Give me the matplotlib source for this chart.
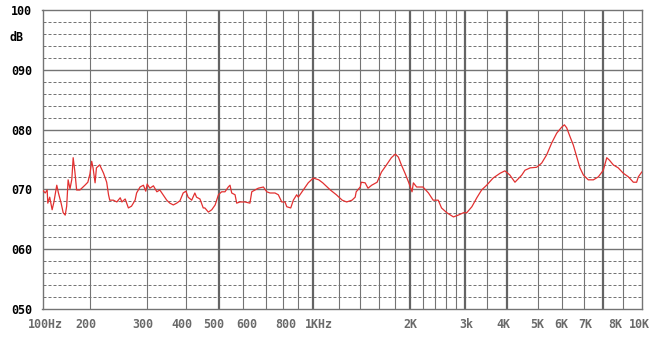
import numpy as np
import matplotlib
matplotlib.use('Agg')
import matplotlib.pyplot as plt

# frequency response, Hz / dB
freq = [100, 104, 107, 108, 111, 115, 118, 123, 126, 131,
        135, 139, 142, 145, 149, 153, 156, 160, 164, 172,
        185, 193, 199, 202, 204, 207, 209, 214, 220, 225,
        228, 230, 236, 242, 248, 251, 257, 263, 269, 276,
        279, 286, 293, 298, 301, 307, 315, 323, 330, 338,
        347, 355, 364, 373, 382, 391, 399, 405, 415, 424,
        429, 439, 449, 454, 465, 476, 487, 498, 510, 523,
        536, 543, 550, 564, 571, 585, 607, 628, 636, 650,
        665, 689, 706, 724, 753, 773, 794, 814, 825, 850,
        867, 889, 900, 932, 965, 1000, 1040, 1070, 1130, 1180,
        1230, 1270, 1320, 1350, 1360, 1400, 1410, 1450, 1480, 1520,
        1580, 1630, 1690, 1750, 1800, 1840, 1880, 1930, 1980, 2030,
        2050, 2100, 2200, 2290, 2370, 2460, 2520, 2620, 2750, 2850,
        2960, 3030, 3140, 3250, 3360, 3480, 3640, 3820, 3950, 4090,
        4240, 4450, 4550, 4720, 4940, 5130, 5330, 5540, 5750, 5970,
        6090, 6190, 6340, 6490, 6650, 6800, 6970, 7210, 7470, 7730,
        8000, 8170, 8300, 8500, 8760, 9030, 9280, 9530, 9700, 9790,
        9970]
db = [69.9, 69.4, 69.9, 67.7, 68.7, 66.6, 67.9, 70.7, 69.4, 67.7,
      66.1, 65.7, 67.2, 71.6, 70.1, 71.7, 75.3, 72.9, 69.9, 69.9,
      70.7, 71.2, 72.6, 74.7, 73.6, 71.1, 73.6, 74.1, 72.7, 71.2,
      69.1, 68.2, 68.2, 67.9, 68.6, 67.9, 68.4, 66.9, 67.2, 68.2,
      69.4, 70.4, 70.7, 69.7, 70.9, 70.2, 70.6, 69.6, 69.9, 69.1,
      68.2, 67.7, 67.4, 67.7, 68.1, 69.4, 69.7, 68.7, 68.2, 69.4,
      68.7, 68.4, 66.9, 66.9, 66.2, 66.6, 67.4, 69.1, 69.6, 69.6,
      70.4, 70.7, 69.4, 69.1, 67.7, 67.9, 67.9, 67.7, 69.6, 69.9,
      70.2, 70.4, 69.6, 69.4, 69.4, 69.1, 67.9, 67.9, 67.1, 66.9,
      68.2, 69.1, 68.7, 69.9, 71.1, 71.9, 71.6, 71.1, 69.9, 69.1,
      68.2, 67.9, 68.2, 68.7, 69.6, 70.4, 71.2, 71.1, 70.2, 70.7,
      71.2, 72.9, 74.1, 75.3, 75.9, 75.4, 74.1, 72.7, 71.2, 69.6,
      71.1, 70.4, 70.4, 69.4, 68.2, 68.2, 66.9, 66.1, 65.4, 65.7,
      66.1, 66.1, 67.1, 68.6, 69.9, 70.7, 71.9, 72.7, 73.1, 72.4,
      71.2, 72.4, 73.2, 73.6, 73.7, 74.4, 75.8, 77.8, 79.4, 80.4,
      80.8, 80.3, 78.8, 77.4, 75.4, 73.6, 72.4, 71.6, 71.6, 72.1,
      73.2, 75.3, 74.9, 74.1, 73.6, 72.7, 72.1, 71.2, 71.2, 72.1,
      72.9]

# x tick labels
x_ticks = [100, 200, 300, 400, 500, 600, 800, 1000, 2000, 3000, 4000, 5000, 6000, 7000, 8000, 10000]
x_labels = ['100Hz', '200', '300', '400', '500', '600', '800', '1KHz',
            '2K', '3k', '4K', '5K', '6K', '7K', '8K', '10K']
x_label_shift = [3, -4, -4, -4, -5, 3, 3, 6, 0, 1, -3, -1, -1, 1, 12, -3]   # px

y_ticks = [50, 60, 70, 80, 90, 100]
y_labels = ['050', '060', '070', '080', '090', '100']

# vertical grid, thick ones separate
v_thin = [200, 300, 400, 600, 700, 800, 900, 1200, 1400, 1600, 1800,
          2200, 2400, 2600, 2800, 3500, 5000, 6000, 7000, 9000]
v_thick = [500, 1000, 2000, 3000, 4000, 8000]

# the analyser's frequency axis is not a clean log axis: anchor pixels
anchor_f = np.log10([100, 200, 300, 400, 500, 600, 700, 800, 900, 1000,
                     2000, 3000, 4000, 5000, 6000, 7000, 8000, 9000, 10000])
anchor_px = np.array([42.5, 90.3, 146.7, 186.3, 219, 243.3, 265.7, 282.7, 298.3, 313.3,
                      410, 465.3, 506.7, 538.3, 562.3, 584, 603.3, 622.7, 642.3])


def fwd(x):
    x = np.clip(np.asarray(x, dtype=float), 1e-6, None)
    return np.interp(np.log10(x), anchor_f, anchor_px)


def inv(p):
    return 10 ** np.interp(p, anchor_px, anchor_f)


grid_col = '#747474'
fig = plt.figure(figsize=(6.58, 3.38), dpi=100)
ax = fig.add_axes([42.5 / 658, 29 / 338, 599.8 / 658, 299 / 338])
ax.set_xscale('function', functions=(fwd, inv))
ax.set_xlim(100, 10000)
ax.set_ylim(50, 100)

# horizontal grid
for y in range(52, 100, 2):
    if y % 10 == 0:
        ax.axhline(y, color=grid_col, lw=1.0, zorder=1)
    else:
        ax.axhline(y, color=grid_col, lw=0.72, ls=(0, (3, 2)), zorder=1)
for f in v_thin:
    ax.axvline(f, color=grid_col, lw=0.8, zorder=1)
for f in v_thick:
    ax.axvline(f, color='#646464', lw=1.6, zorder=1)

ax.plot(freq, db, color='#e23030', lw=0.9, zorder=3)

for s in ax.spines.values():
    s.set_color(grid_col)
    s.set_linewidth(1.0)

ax.set_xticks([])
ax.set_yticks(y_ticks)
ax.set_yticklabels(y_labels, family='DejaVu Sans Mono', weight='bold', fontsize=8.4, color='black')
ax.tick_params(axis='y', length=0, pad=7.5)

for f, lab, dx in zip(x_ticks, x_labels, x_label_shift):
    ax.annotate(lab, xy=(f, 0), xycoords=('data', 'axes fraction'),
                xytext=(dx * 0.72, -15 * 0.72), textcoords='offset points',
                ha='center', va='center', family='DejaVu Sans Mono',
                weight='bold', fontsize=8.4, color='#6a6a6a')

fig.text(10 / 658, 1 - 37.5 / 338, 'dB', ha='left', va='center',
         family='DejaVu Sans Mono', weight='bold', fontsize=8.4, color='black')

fig.savefig('out.png', dpi=100)
